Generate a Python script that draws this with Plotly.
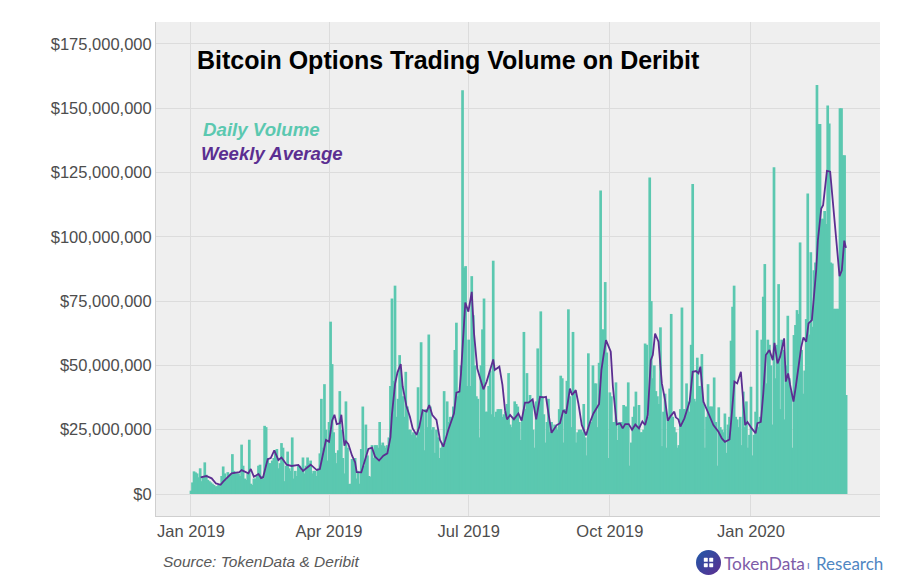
import base64
import pandas as pd
import plotly.graph_objects as go

# Daily volume, USD millions
jan19 = [1.3,4.5,8.8,8.4,8,6.5,10,5,6.5,12.3,7.5,5.5,5,4.5,4,3.5,3,3,3.5,3,7,10.7,8,5.5,8.5,7,8,15.5,9,8,8]
feb19 = [8,7,19.2,11,6,5.5,8,21.1,4,3.5,6,6,7,11,11.4,7,6,26.5,26,14,12,12,13,14,17,17.5,10,12]
mar19 = [19.8,18,5,11,16.5,10,9,22,6,9,7,11,11,9,14.2,8,11,14.2,12,13,8,9,9,7,10,15.8,37,18,42.7,25,13]
apr19 = [28,67,50.5,24,16,12,17,40,25,14,8,36,18,3.9,4,13.6,13,14,6,9,4,17.5,34,11,27,15,7,6.7,19,14]
may19 = [19,19,18,28,19,20,18.8,18,19,22,42,76,44,81,30,37,54,45,38,30,47.5,34,25,25,23,24,23,22,41.5,24,59]
jun19 = [32,17,33,26,62,34,25,26,16,25,22,14,18,20,40,20,36,28,30,30,34,56,66.6,38,40,50,157,88,88.6,42]
jul19 = [60,42,84.7,69.5,50,38,37,22,50,64,76,32,32,42,48,31,90.7,30,32,33,33,33,30,31,32,35,47,27,26,30,36]
aug19 = [35,34,28,21,30,63,33,47,36,38.5,37,25,18,36,56.6,37,71,38,31,20,28,37,24,28,25,27,26,25,33,46,45]
sep19 = [20,33,44,71.8,38,26,63,40,20,24,25,25,24,35,22,15,54.7,27,28,50,43,43,26,51,118,64,64,82.4,55,14]
oct19 = [39.5,38,28,28,43.4,21,28,27,28,34.6,34,34,43.4,11,20,30,34,39.8,26,34.6,24,24,25,58.5,58,30,123,75,45,50,40]
nov19 = [38,35,64.8,18.6,32,39,18,30,41,70,30,26,24,18,19,33,72.5,33,33,43,36,32,58,120.5,37,36,53,42,42,54.4]
dec19 = [35,18,30,42.7,34,34,34,45.3,28,11,33.7,26,25,24,31.3,16,27,30,59.6,72.8,81,30,29,26,30,19,39.8,26,36,18,23]
jan20 = [41.7,15,23,32,63.7,26,30,60,76.7,89.4,43,60,58,50,27,127,45,58,81.6,33,60,56,29,50,69.3,45,40,18,61.8,65.7,71.5]
feb20 = [70,97.8,56,39,48,68,116.8,62,94,65,87,90,159,143.8,143.8,107,107,110,105,151,144,90,89.6,72,72,72,72,150,150]
mar20 = [131.7,131.7,38.5]

daily_musd = jan19+feb19+mar19+apr19+may19+jun19+jul19+aug19+sep19+oct19+nov19+dec19+jan20+feb20+mar20
dates = pd.date_range("2019-01-01", periods=len(daily_musd), freq="D")

# Weekly average: vertices of the line, as (days since 1 Jan 2019) and USD millions
avg_days = [6.3,10,13.5,16.3,19.3,21,26.5,31.5,33,37.4,39,41,44,45.7,47,50,52,54.3,57,59,62.4,65.6,70,73,78,82,84,86,88,90,92,93.5,95,97,98,100,101,102.6,105,107,108,111,113.5,115.6,118,120,122.6,125.4,128,130,131,133,134.6,136.7,138,140.5,142.7,144.5,147,148.8,151,153.6,155.3,157.3,160,162.3,164.5,167.7,171.4,173,175,176,178.8,180.8,183,184.5,186.6,190.6,192.7,195,197,198,201,203,204.7,206,208,210.5,213.4,215.5,217.7,220,222.7,225,227.5,229.7,231.4,233,235,238.4,240.5,242.7,244.5,247,248.4,250.8,252.5,254.7,257.5,260,262.3,266,267.5,268.8,270.5,273.6,275,277.5,279.7,281.4,283,285.3,287.5,289.6,292,294.2,296,297.7,299.7,301,302.5,304.7,306.9,309,310.8,312.7,315,316,317.7,319,321.6,325,327,329.2,330.8,332,334,337.3,340.5,343.8,346,348,351,352.5,354.2,356,358.4,361.2,362.7,365.5,368,369.2,371.4,373,374.7,377,379.2,380.3,382.3,384,386.6,387.7,389.2,390.5,392.7,394.2,396,397.7,399.2,401,402.5,404.7,406.2,407.5,408.6,410.8,412,414.5,416.6,418.8,421,422.7,424.2,425.8,426.9]
avg_musd = [6.5,7,6.1,4.1,3.6,4.8,8,8.5,9.3,8,9.7,6.7,7.8,6.2,6.5,13.5,14,17,13.2,14.2,11.4,10.9,11.3,9,11.4,9.3,9.7,15.3,21,20.3,28.5,30.8,27.2,27.5,30.8,18.8,20.5,19.4,14.9,12.3,8.5,8.4,13.6,17.5,18,14.5,13,14.9,15.8,22,31,42.7,47.3,50.5,41.7,34,30,25.5,23,26,32.6,32,34.6,30.7,28.8,21,18.4,24.9,31.3,39.4,39.8,46.9,74.4,70.9,78.6,62.4,48.8,40.7,43.7,48.8,52.3,48.2,49.5,42.4,32.6,29,30.7,29,31.3,28.5,35.5,35.5,36.8,29,37.8,37.6,37.8,31.3,23.8,26.8,27.5,32.6,31.3,41,38.5,40.4,35.2,26.8,22.8,27.8,31.3,35,48.2,53.4,59.8,55.3,41.7,27,27.5,25.5,27.2,27.2,25,27,25.5,28.2,26.8,30.7,52,54,62.4,59.2,43,36.5,28.5,30.4,32,29.8,29,26.2,29.4,35.9,47.5,47.8,46.9,49.5,35.9,31.3,26.8,24.2,21.6,20.3,21.2,31.3,43.7,43,47.5,26.8,28,25.5,23.6,27.5,28,39,54,56,52,58.8,50.8,53.4,60.5,43.7,46.9,42.4,35.9,41.7,50,57,60.9,59.2,66.3,67.6,78,87,98.7,111,112.3,125.6,125.3,110.4,96,84.7,87,98.5,95.7]
avg_dates = [pd.Timestamp("2019-01-01") + pd.Timedelta(days=d) for d in avg_days]

y_ticks = [0, 25, 50, 75, 100, 125, 150, 175]
y_tick_labels = ["$0", "$25,000,000", "$50,000,000", "$75,000,000", "$100,000,000",
                 "$125,000,000", "$150,000,000", "$175,000,000"]
x_tick_dates = ["2019-01-01", "2019-04-01", "2019-07-01", "2019-10-01", "2020-01-01"]
x_tick_labels = ["Jan 2019", "Apr 2019", "Jul 2019", "Oct 2019", "Jan 2020"]

W, H = 900, 579
L, R, T, B = 156, 880, 22, 516
FONT = "Liberation Sans"
TEAL, PURPLE = "#5BC8B0", "#5B2E91"
BAR_WIDTH_MS = 1.75 * 86400000

def px(x):
    return (x - L) / (R - L)

def py(y):
    return (B - y) / (B - T)

fig = go.Figure()
fig.add_bar(x=dates, y=[v * 1e6 for v in daily_musd], width=BAR_WIDTH_MS,
            marker=dict(color=TEAL, line_width=0), name="Daily Volume", showlegend=False)
fig.add_scatter(x=avg_dates, y=[v * 1e6 for v in avg_musd], mode="lines",
                line=dict(color=PURPLE, width=1.8), name="Weekly Average", showlegend=False)

def note(x, y, text, size, color, bold=False, italic=False, family=FONT):
    fig.add_annotation(xref="paper", yref="paper", x=px(x), y=py(y), text=text, showarrow=False,
                       xanchor="left", yanchor="middle", align="left", borderpad=0, xshift=-1,
                       font=dict(family=family, size=size, color=color,
                                 weight="bold" if bold else "normal",
                                 style="italic" if italic else "normal"))

note(197, 60, "Bitcoin Options Trading Volume on Deribit", 25, "#000000", bold=True)
note(203, 129, "Daily Volume", 18.7, TEAL, bold=True, italic=True)
note(201, 154, "Weekly Average", 18.6, PURPLE, bold=True, italic=True)
note(163, 561, "Source: TokenData &amp; Deribit", 15.5, "#595959", italic=True)
note(724, 563, "TokenData", 17.3, "#7D5CA8", family="Lato")
note(807, 564, "ı", 11, "#5F7DB8", family="Lato")
note(816, 563, "Research", 17, "#4F86C2", family="Lato")

logo_svg = (
    '<svg xmlns="http://www.w3.org/2000/svg" viewBox="0 0 24 24">'
    '<defs><linearGradient id="g" x1="0" y1="0" x2="1" y2="1">'
    '<stop offset="0" stop-color="#1F5AA8"/><stop offset="1" stop-color="#5E2D91"/>'
    '</linearGradient></defs><circle cx="12" cy="12" r="12" fill="url(#g)"/>'
    '<g fill="#fff"><rect x="7.5" y="7.5" width="3.8" height="3.8" rx=".6"/>'
    '<rect x="12.7" y="7.5" width="3.8" height="3.8" rx=".6"/>'
    '<rect x="7.5" y="12.7" width="3.8" height="3.8" rx=".6"/>'
    '<rect x="12.7" y="12.7" width="3.8" height="3.8" rx=".6"/></g></svg>'
)
fig.add_layout_image(source="data:image/svg+xml;base64," + base64.b64encode(logo_svg.encode()).decode(),
                     xref="paper", yref="paper", x=px(696), y=py(550), sizex=25 / (R - L), sizey=25 / (B - T),
                     xanchor="left", yanchor="top", sizing="stretch", layer="above")

fig.update_layout(
    width=W, height=H, autosize=False,
    margin=dict(l=L, r=W - R, t=T, b=H - B, pad=0),
    paper_bgcolor="#FFFFFF", plot_bgcolor="#EFEFEF",
    barmode="overlay", showlegend=False,
    font=dict(family=FONT, size=16.5, color="#4D4D4D"),
)
fig.update_xaxes(range=["2018-12-09 05:00", "2020-03-25 02:00"], tickmode="array",
                 tickvals=x_tick_dates, ticktext=x_tick_labels, showgrid=True, gridcolor="#DCDCDC",
                 gridwidth=1, showline=True, linecolor="#CFCFCF", linewidth=1, ticks="", zeroline=False,
                 tickfont=dict(size=16.5, color="#4D4D4D"))
fig.update_yaxes(range=[-8.55e6, 183.5e6], tickmode="array", tickvals=[v * 1e6 for v in y_ticks],
                 ticktext=y_tick_labels, showgrid=True, gridcolor="#DCDCDC", gridwidth=1,
                 showline=True, linecolor="#CFCFCF", linewidth=1, ticks="", zeroline=False,
                 tickfont=dict(size=16.5, color="#4D4D4D"))

fig.write_html("out.html", config={"displayModeBar": False},
               post_script="document.body.style.margin='0';document.documentElement.style.overflow='hidden';")
